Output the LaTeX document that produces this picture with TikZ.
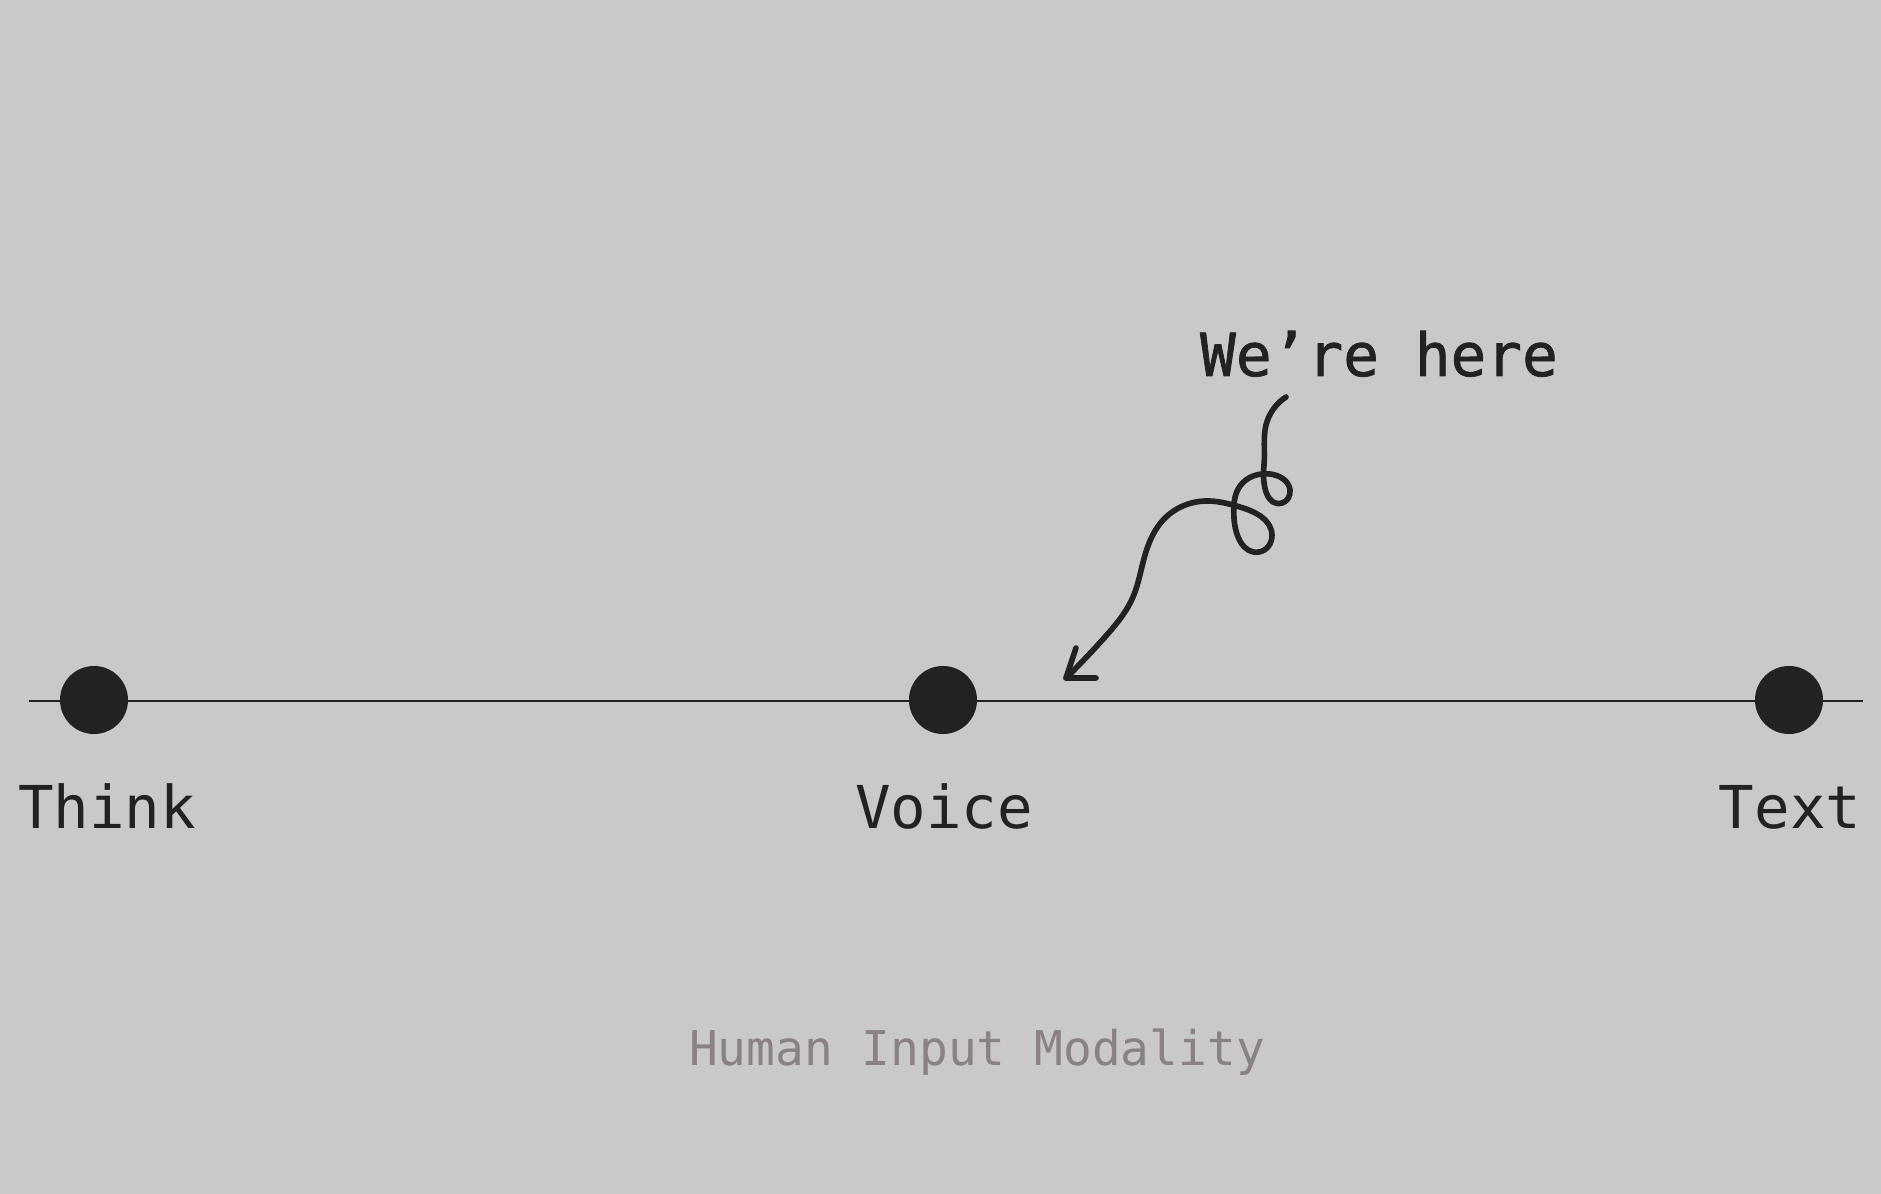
\documentclass[tikz,border=0pt]{standalone}
\usepackage{fontspec}
\usetikzlibrary{hobby}
\newfontfamily\monof{DejaVu Sans Mono}
\newfontfamily\monofb[FakeBold=1.2]{DejaVu Sans Mono}
\definecolor{bgc}{RGB}{201,201,201}
\definecolor{ink}{RGB}{35,34,34}
\definecolor{subc}{RGB}{138,130,130}
\begin{document}
\begin{tikzpicture}[x=0.01cm,y=-0.01cm,
  dot/.style={circle,fill=ink,inner sep=0pt,minimum size=0.68cm},
  axislbl/.style={anchor=base,text=ink,font=\monof\fontsize{16.8}{20}\selectfont,inner sep=0pt},
  sublbl/.style={anchor=base,text=subc,font=\monof\fontsize{13.6}{16}\selectfont,inner sep=0pt},
  squiggle/.style={draw=ink,line width=1.6pt,line cap=round,line join=round}]
\fill[bgc] (0,0) rectangle (1881,1194);
\useasboundingbox (0,0) rectangle (1881,1194);
\coordinate (lend) at (29,701);
\coordinate (rend) at (1863,701);
\draw[ink,line width=0.85pt] (lend) -- (rend);
\node[dot] (think) at (94,700) {};
\node[dot] (voice) at (943,700) {};
\node[dot] (textd) at (1789,700) {};
\node[axislbl] (thinkl) at (107,828) {Think};
\node[axislbl] (voicel) at (944,828) {Voice};
\node[axislbl] (textl) at (1790,828) {Text};
\node[axislbl,font=\monofb\fontsize{16.9}{20}\selectfont] (here) at (1379,376) {We’re here};
\node[sublbl] (title) at (977,1065) {Human Input Modality};
\coordinate (astart) at (1286,397);
\coordinate (atip) at (1066,678);
\draw[squiggle,use Hobby shortcut] (astart) .. (1266,425) .. (1264,465) .. (1282,503)
 .. (1290,490) .. (1270,474) .. (1240,486) .. (1234,518) .. (1259,552)
 .. (1272,535) .. (1240,507) .. (1205,501) .. (1165,518) .. (1145,555)
 .. (1133,597) .. (1105,637) .. (atip);
\draw[squiggle] (1076,648) -- (atip) -- (1096,678);
\end{tikzpicture}
\end{document}
